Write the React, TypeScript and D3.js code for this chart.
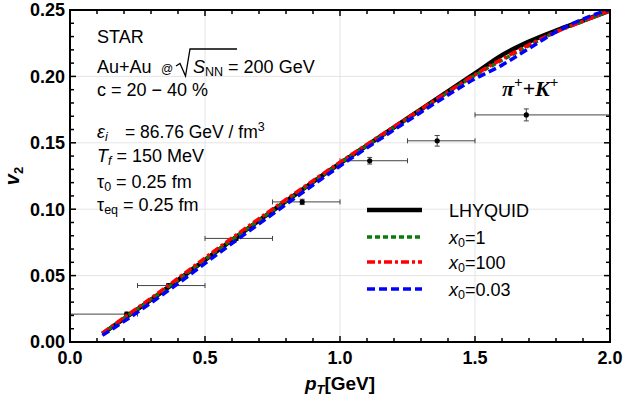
import React from "react";
import * as d3 from "d3";

// ---- data ----
const pT = [0.12, 0.2, 0.3, 0.4, 0.5, 0.6, 0.7, 0.8, 0.9, 1.0, 1.1, 1.2, 1.3, 1.4, 1.5, 1.6, 1.7, 1.8, 1.9, 2.0];
const lhyquid = [0.0062, 0.0175, 0.0318, 0.0466, 0.0618, 0.0768, 0.0915, 0.106, 0.1205, 0.1345, 0.148, 0.1617, 0.1752, 0.1888, 0.2022, 0.216, 0.2262, 0.2345, 0.242, 0.2495];
const x0One = [0.0064, 0.0177, 0.0320, 0.0468, 0.0620, 0.0770, 0.0917, 0.1062, 0.1206, 0.1345, 0.1480, 0.1615, 0.1748, 0.1880, 0.2008, 0.2122, 0.2232, 0.2335, 0.2415, 0.2495];
const x0Hundred = [0.0067, 0.0184, 0.0330, 0.0480, 0.0633, 0.0783, 0.0929, 0.1073, 0.1215, 0.1354, 0.1488, 0.1621, 0.1753, 0.1884, 0.2013, 0.2130, 0.2238, 0.2335, 0.2415, 0.2495];
const x0Small = [0.0050, 0.0155, 0.0295, 0.0440, 0.0592, 0.0742, 0.0889, 0.1036, 0.1182, 0.1325, 0.1462, 0.1597, 0.1730, 0.1860, 0.1982, 0.2085, 0.2210, 0.2335, 0.2432, 0.2505];

const starX = [0.21, 0.365, 0.615, 0.86, 1.11, 1.36, 1.69];
const starY = [0.021, 0.0425, 0.078, 0.1055, 0.1365, 0.1515, 0.171];
const starXLo = [0, 0.25, 0.5, 0.75, 1.0, 1.25, 1.5];
const starXHi = [0.25, 0.5, 0.75, 1.0, 1.25, 1.5, 2.0];
const starYErr = [0.0015, 0.0015, 0.0015, 0.002, 0.0025, 0.004, 0.0045];

const xTicks = [0, 0.5, 1.0, 1.5, 2.0];
const yTicks = [0, 0.05, 0.1, 0.15, 0.2, 0.25];
const xMinor = d3.range(0, 2.0001, 0.1);
const yMinor = d3.range(0, 0.25001, 0.01);

const seriesNames = ["LHYQUID", "x0=1", "x0=100", "x0=0.03"];

const W = 623, H = 399;
const L = 70, R = 610, T = 10, B = 342;

export default function App() {
  const x = d3.scaleLinear().domain([0, 2]).range([L, R]);
  const y = d3.scaleLinear().domain([0, 0.25]).range([B, T]);
  const line = (vals: number[]) =>
    d3.line<number>().x((_, i) => x(pT[i])).y((v) => y(v)).curve(d3.curveMonotoneX)(vals) || "";

  const styles = [
    { vals: lhyquid, color: "#000000", width: 4.5, dash: "" },
    { vals: x0One, color: "#0a7a0a", width: 3.5, dash: "5,3" },
    { vals: x0Hundred, color: "#ff0000", width: 3.5, dash: "8,3,3,3" },
    { vals: x0Small, color: "#0000ff", width: 3.5, dash: "8,4" },
  ];

  const sans = "'Liberation Sans', Arial, Helvetica, sans-serif";
  const fs = 18;
  const sub = 12.5;
  const legendY = [210, 237, 262, 289];

  return (
    <svg width={W} height={H} style={{ position: "absolute", left: 0, top: 0, background: "#fff" }} fontFamily={sans}>
      <defs>
        <clipPath id="plotclip">
          <rect x={L} y={T} width={R - L} height={B - T} />
        </clipPath>
      </defs>
      <rect x={0} y={0} width={W} height={H} fill="#fff" />
      {/* grid */}
      {xTicks.slice(1, -1).map((t) => (
        <line key={"gx" + t} x1={x(t)} x2={x(t)} y1={T} y2={B} stroke="#e4e4e4" strokeWidth={1} />
      ))}
      {yTicks.slice(1, -1).map((t) => (
        <line key={"gy" + t} x1={L} x2={R} y1={y(t)} y2={y(t)} stroke="#e4e4e4" strokeWidth={1} />
      ))}

      {/* STAR data */}
      <g stroke="#444" strokeWidth={1} fill="none">
        {starX.map((px, i) => (
          <g key={"d" + i}>
            <line x1={x(starXLo[i])} x2={x(starXHi[i])} y1={y(starY[i])} y2={y(starY[i])} />
            <line x1={x(starXLo[i])} x2={x(starXLo[i])} y1={y(starY[i]) - 2.5} y2={y(starY[i]) + 2.5} />
            <line x1={x(starXHi[i])} x2={x(starXHi[i])} y1={y(starY[i]) - 2.5} y2={y(starY[i]) + 2.5} />
            <line x1={x(px)} x2={x(px)} y1={y(starY[i] - starYErr[i])} y2={y(starY[i] + starYErr[i])} />
            <line x1={x(px) - 2.5} x2={x(px) + 2.5} y1={y(starY[i] - starYErr[i])} y2={y(starY[i] - starYErr[i])} />
            <line x1={x(px) - 2.5} x2={x(px) + 2.5} y1={y(starY[i] + starYErr[i])} y2={y(starY[i] + starYErr[i])} />
          </g>
        ))}
      </g>
      {starX.map((px, i) => (
        <circle key={"c" + i} cx={x(px)} cy={y(starY[i])} r={2.6} fill="#000" />
      ))}

      {/* curves */}
      <g clipPath="url(#plotclip)">
        {styles.map((s, i) => (
          <path key={"s" + i} d={line(s.vals)} fill="none" stroke={s.color} strokeWidth={s.width}
            strokeDasharray={s.dash || undefined} strokeLinejoin="round" />
        ))}
      </g>

      {/* frame ticks */}
      <g stroke="#000">
        {xMinor.map((t, i) => {
          const major = i % 5 === 0;
          const len = major ? 6 : 4;
          return (
            <g key={"xt" + i} strokeWidth={1.5}>
              <line x1={x(t)} x2={x(t)} y1={B} y2={B - len} />
              <line x1={x(t)} x2={x(t)} y1={T} y2={T + len} />
            </g>
          );
        })}
        {yMinor.map((t, i) => {
          const major = i % 5 === 0;
          const len = major ? 6 : 4;
          return (
            <g key={"yt" + i} strokeWidth={1.5}>
              <line x1={L} x2={L + len} y1={y(t)} y2={y(t)} />
              <line x1={R} x2={R - len} y1={y(t)} y2={y(t)} />
            </g>
          );
        })}
      </g>
      <rect x={L} y={T} width={R - L} height={B - T} fill="none" stroke="#000" strokeWidth={2} />

      {/* tick labels */}
      {yTicks.map((t) => (
        <text key={"yl" + t} x={L - 5} y={y(t)} dy="0.36em" textAnchor="end" fontSize={fs} fontWeight="bold">
          {d3.format(".2f")(t)}
        </text>
      ))}
      {xTicks.map((t) => (
        <text key={"xl" + t} x={x(t)} y={364} textAnchor="middle" fontSize={fs} fontWeight="bold">
          {d3.format(".1f")(t)}
        </text>
      ))}

      {/* axis titles */}
      <text x={340} y={390} textAnchor="middle" fontSize={19} fontWeight="bold">
        <tspan fontStyle="italic">p</tspan>
        <tspan fontStyle="italic" fontSize={13} dy={4}>T</tspan>
        <tspan dy={-4}>[GeV]</tspan>
      </text>
      <text transform="translate(19,176) rotate(-90)" textAnchor="middle" fontSize={20} fontWeight="bold">
        <tspan fontStyle="italic">v</tspan>
        <tspan fontSize={13} dy={4}>2</tspan>
      </text>

      {/* annotations */}
      <g fontSize={fs} fill="#000">
        <text x={97} y={43}>STAR</text>
        <text x={97} y={73}>Au+Au</text>
        <text x={161} y={73} fontSize={12}>@</text>
        <path d="M176,66 L180,63.5 L185.5,76 L190,49 L237,49" fill="none" stroke="#000" strokeWidth={1.3} />
        <text x={193} y={73}>
          <tspan fontStyle="italic">S</tspan>
          <tspan fontSize={sub} dy={3}>NN</tspan>
          <tspan dy={-3}>{"\u00A0= 200 GeV"}</tspan>
        </text>
        <text x={97} y={96}>c = 20 − 40 %</text>
        <text x={97} y={138}>
          <tspan fontStyle="italic">ε</tspan>
          <tspan fontStyle="italic" fontSize={sub} dy={3}>i</tspan>
        </text>
        <text x={125} y={138} fontSize={17.5}>
          <tspan>= 86.76 GeV / fm</tspan>
          <tspan fontSize={sub} dy={-7}>3</tspan>
        </text>
        <text x={97} y={162}>
          <tspan fontStyle="italic">T</tspan>
          <tspan fontStyle="italic" fontSize={sub} dy={3}>f</tspan>
          <tspan dy={-3}>{"\u00A0= 150 MeV"}</tspan>
        </text>
        <text x={97} y={188}>
          <tspan>τ</tspan>
          <tspan fontSize={sub} dy={3}>0</tspan>
          <tspan dy={-3}>{"\u00A0= 0.25 fm"}</tspan>
        </text>
        <text x={97} y={211}>
          <tspan>τ</tspan>
          <tspan fontSize={sub} dy={3}>eq</tspan>
          <tspan dy={-3}>{"\u00A0= 0.25 fm"}</tspan>
        </text>
        <text x={502} y={96} fontFamily="'Liberation Serif', 'Times New Roman', serif" fontWeight="bold" fontStyle="italic" fontSize={22}>
          <tspan>π</tspan>
          <tspan fontSize={15} dy={-9}>+</tspan>
          <tspan dy={9}>+K</tspan>
          <tspan fontSize={15} dy={-9}>+</tspan>
        </text>
      </g>

      {/* legend */}
      {styles.map((s, i) => (
        <g key={"lg" + i}>
          <line x1={367} x2={422} y1={legendY[i]} y2={legendY[i]} stroke={s.color} strokeWidth={s.width}
            strokeDasharray={s.dash || undefined} />
          {i === 0 ? (
            <text x={449} y={legendY[i] + 6.5} fontSize={fs}>{seriesNames[i]}</text>
          ) : (
            <text x={449} y={legendY[i] + 6.5} fontSize={fs}>
              <tspan fontStyle="italic">x</tspan>
              <tspan fontSize={sub} dy={3}>0</tspan>
              <tspan dy={-3}>{seriesNames[i].slice(2)}</tspan>
            </text>
          )}
        </g>
      ))}
    </svg>
  );
}
